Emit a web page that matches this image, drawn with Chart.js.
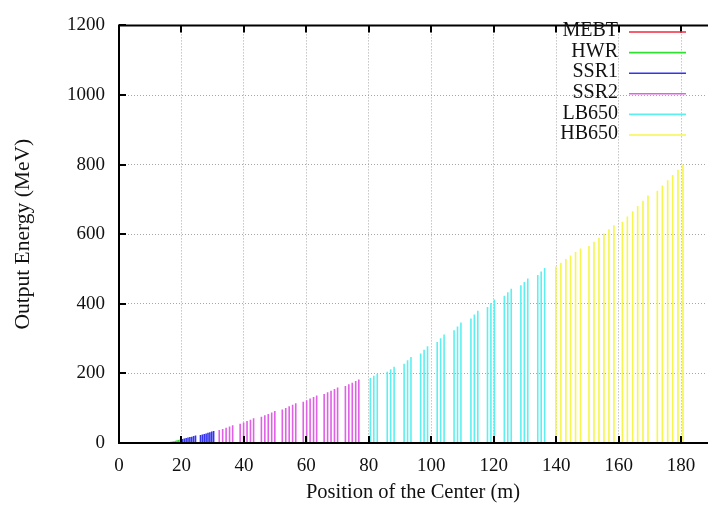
<!DOCTYPE html>
<html>
<head>
<meta charset="utf-8">
<script src="https://cdn.jsdelivr.net/npm/chart.js@4.4.1/dist/chart.umd.min.js"></script>
<style>
  html, body { margin: 0; padding: 0; background: #fff; }
</style>
</head>
<body>
<canvas id="energy_chart" width="708" height="508"></canvas>
<script>
// cavity centre positions (m) and output energy (MeV)
var mebtPos = [3.6, 7.4, 11.2];
var mebtEnergy = [2.1, 2.1, 2.1];

var hwrPos = [16.1, 16.6, 17.1, 17.6, 18.1, 18.6, 19.1, 19.6];
var hwrEnergy = [2.6, 3.4, 4.3, 5.3, 6.4, 7.6, 8.9, 10.3];

var ssr1Pos = [20.3, 20.9, 21.5, 22.1, 22.7, 23.3, 23.9, 24.5,
               26.1, 26.7, 27.3, 27.9, 28.5, 29.1, 29.7, 30.3];
var ssr1Energy = [11.5, 12.8, 14.1, 15.5, 16.9, 18.3, 19.8, 21.3,
                  22.8, 24.3, 25.9, 27.5, 29.2, 30.9, 32.7, 34.5];

var ssr2Pos = [32.1, 33.2, 34.3, 35.4, 36.4,
               38.8, 39.9, 41.0, 42.1, 43.1,
               45.6, 46.7, 47.8, 48.9, 49.9,
               52.3, 53.4, 54.5, 55.6, 56.6,
               59.0, 60.1, 61.2, 62.3, 63.3,
               65.7, 66.8, 67.9, 69.0, 70.0,
               72.5, 73.6, 74.7, 75.8, 76.8];
var ssr2Energy = [37.0, 40.5, 44.0, 47.6, 51.3,
                  55.1, 59.0, 63.0, 67.0, 71.1,
                  75.2, 79.4, 83.6, 87.9, 92.2,
                  96.5, 100.9, 105.3, 109.7, 114.1,
                  118.6, 123.1, 127.6, 132.1, 136.6,
                  141.1, 145.7, 150.3, 154.9, 159.5,
                  164.1, 168.7, 173.3, 177.9, 182.5];

var lb650Pos = [80.5, 81.6, 82.7, 85.9, 87.0, 88.1, 91.3, 92.4, 93.5,
                96.6, 97.7, 98.8, 101.9, 103.0, 104.1, 107.3, 108.4, 109.5,
                112.7, 113.8, 114.9, 118.0, 119.1, 120.2, 123.4, 124.5, 125.6,
                128.7, 129.8, 130.9, 134.1, 135.2, 136.3];
var lb650Energy = [187, 193, 199, 205, 212, 219, 228, 238, 247,
                   257, 268, 278, 290, 301, 312, 324, 335, 346,
                   358, 369, 380, 391, 402, 412, 423, 433, 443,
                   453, 463, 473, 483, 493, 503];

var hb650Pos = [139.9, 141.5, 143.1, 144.6, 146.2, 147.8,
                150.5, 152.1, 153.7, 155.3, 156.9, 158.5,
                161.2, 162.8, 164.5, 166.1, 167.8, 169.4,
                172.4, 174.0, 175.7, 177.3, 179.0, 180.6];
var hb650Energy = [507, 518, 529, 539, 549, 559,
                   566, 578, 590, 602, 614, 626,
                   636, 651, 666, 681, 696, 711,
                   725, 740, 755, 770, 785, 800];

var sectionNames = ['MEBT', 'HWR', 'SSR1', 'SSR2', 'LB650', 'HB650'];
var sectionColors = ['#f0283c', '#30e030', '#3434ee', '#e060e6', '#5cf0f0', '#f6f64c'];

var xTicks = [0, 20, 40, 60, 80, 100, 120, 140, 160, 180];
var yTicks = [0, 200, 400, 600, 800, 1000, 1200];

var serif = "'Liberation Serif', 'Times New Roman', serif";
Chart.defaults.font.family = serif;
Chart.defaults.color = '#111';

function toPoints(pos, energy) {
  return pos.map(function(x, i) { return { x: x, y: energy[i] }; });
}

var sections = [
  [mebtPos, mebtEnergy], [hwrPos, hwrEnergy], [ssr1Pos, ssr1Energy],
  [ssr2Pos, ssr2Energy], [lb650Pos, lb650Energy], [hb650Pos, hb650Energy]
];

var datasets = sections.map(function(s, i) {
  return {
    label: sectionNames[i],
    data: toPoints(s[0], s[1]),
    backgroundColor: sectionColors[i],
    borderWidth: 0,
    barThickness: 1.6,
    inflateAmount: 0,
    grouped: false
  };
});

// gnuplot style border, inward ticks and key
var gnuplotFrame = {
  id: 'gnuplotFrame',
  afterDatasetsDraw: function(chart) {
    var a = chart.chartArea, ctx = chart.ctx;
    var xs = chart.scales.x, ys = chart.scales.y;
    ctx.save();
    ctx.strokeStyle = '#000';
    ctx.lineWidth = 2;
    ctx.beginPath();
    ctx.moveTo(a.right + 2, a.top);
    ctx.lineTo(a.left, a.top);
    ctx.lineTo(a.left, a.bottom);
    ctx.lineTo(a.right + 2, a.bottom);
    xTicks.forEach(function(v) {
      var px = Math.round(xs.getPixelForValue(v));
      ctx.moveTo(px, a.bottom); ctx.lineTo(px, a.bottom - 7);
      ctx.moveTo(px, a.top); ctx.lineTo(px, a.top + 7);
    });
    yTicks.forEach(function(v) {
      var py = Math.round(ys.getPixelForValue(v));
      ctx.moveTo(a.left, py); ctx.lineTo(a.left + 7, py);
    });
    ctx.stroke();

    ctx.font = '20px ' + serif;
    ctx.textAlign = 'right';
    ctx.textBaseline = 'middle';
    chart.data.datasets.forEach(function(ds, i) {
      var y = 31 + i * 20.6;
      ctx.fillStyle = '#111';
      ctx.fillText(ds.label, 618, y);
      ctx.strokeStyle = ds.backgroundColor;
      ctx.lineWidth = 1.6;
      ctx.beginPath();
      ctx.moveTo(629, y + 1);
      ctx.lineTo(686, y + 1);
      ctx.stroke();
    });
    ctx.restore();
  }
};

var gridColor = 'rgba(150, 150, 150, 0.85)';
var plainLabel = function(v) { return String(v); };

var ec = document.getElementById('energy_chart');
var energyChart = new Chart(ec, {
  type: 'bar',
  data: { datasets: datasets },
  plugins: [gnuplotFrame],
  options: {
    responsive: false,
    animation: false,
    devicePixelRatio: 1,
    layout: { padding: { left: 4, right: 1, top: 16, bottom: 0 } },
    plugins: { legend: { display: false }, tooltip: { enabled: false } },
    scales: {
      x: {
        type: 'linear',
        offset: false,
        min: 0,
        max: 188.3,
        afterBuildTicks: function(s) { s.ticks = xTicks.map(function(v) { return { value: v }; }); },
        afterFit: function(s) { s.height = 65; },
        grid: { color: gridColor, drawTicks: false, lineWidth: 1, offset: false },
        border: { display: false, dash: [1, 2] },
        ticks: { padding: 12, font: { size: 19 }, color: '#111', maxRotation: 0, autoSkip: false, callback: plainLabel },
        title: { display: true, text: 'Position of the Center (m)', font: { size: 20.5 }, color: '#111', padding: { top: 0, bottom: 3 } }
      },
      y: {
        type: 'linear',
        min: 0,
        max: 1200,
        afterBuildTicks: function(s) { s.ticks = yTicks.map(function(v) { return { value: v }; }); },
        afterFit: function(s) { s.width = 115; },
        grid: { color: gridColor, drawTicks: false, lineWidth: 1 },
        border: { display: false, dash: [1, 2] },
        ticks: { padding: 14, font: { size: 19 }, color: '#111', callback: plainLabel },
        title: { display: true, text: 'Output Energy (MeV)', font: { size: 21.5 }, color: '#111', padding: { top: 6, bottom: 0 } }
      }
    }
  }
});
</script>
</body>
</html>
